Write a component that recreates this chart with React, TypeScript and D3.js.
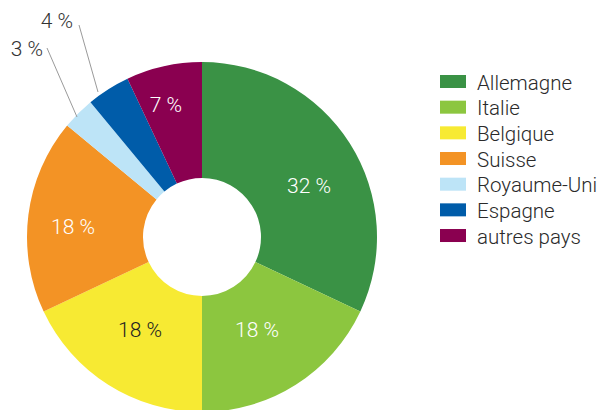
import React from "react";
import * as d3 from "d3";

const categories = ["Allemagne", "Italie", "Belgique", "Suisse", "Royaume-Uni", "Espagne", "autres pays"];
const values = [32, 18, 18, 18, 3, 4, 7];
const colors = ["#3a9245", "#8cc63f", "#f7ea33", "#f39325", "#bde4f7", "#005ca9", "#8a0050"];
const labelColors = ["#ffffff", "#ffffff", "#222222", "#ffffff", "#333333", "#333333", "#ffffff"];

const W = 608, H = 410;
const cx = 202, cy = 237, R = 175, r0 = 59;

// label layout: inside offset from centre (dx, dy); outside ones use leader lines
const insideLabel: Record<number, [number, number]> = {
  0: [107, -51],
  1: [55, 93],
  2: [-62, 93],
  3: [-129, -10],
  6: [-36, -132],
};
const outsideLabel: Record<number, { tx: number; ty: number; lx: number; ly: number; ex: number; ey: number }> = {
  4: { tx: 27, ty: 49, lx: 47, ly: 48, ex: 77, ey: 117 },
  5: { tx: 57, ty: 21, lx: 79, ly: 25, ex: 98, ey: 92 },
};

export default function App() {
  const pie = d3.pie<number>().sort(null).value((d) => d)(values);
  const arc = d3.arc<d3.PieArcDatum<number>>().innerRadius(r0).outerRadius(R);
  const font = "Roboto, 'Open Sans', sans-serif";
  return (
    <div style={{ position: "absolute", left: 0, top: 0 }}>
      <svg width={W} height={H} style={{ display: "block" }}>
        <rect width={W} height={H} fill="#fff" />
        <g transform={`translate(${cx},${cy})`}>
          {pie.map((p, i) => (
            <path key={i} d={arc(p) || ""} fill={colors[i]} />
          ))}
        </g>
        {pie.map((p, i) => {
          if (insideLabel[i]) {
            const [dx, dy] = insideLabel[i];
            return (
              <text key={i} x={cx + dx} y={cy + dy} textAnchor="middle" dominantBaseline="central"
                fontFamily={font} fontWeight={300} fontSize={21} fill={labelColors[i]}>
                {values[i]} %
              </text>
            );
          }
          const o = outsideLabel[i];
          return (
            <g key={i}>
              <line x1={o.lx} y1={o.ly} x2={o.ex} y2={o.ey} stroke="#9a9a9a" strokeWidth={1} />
              <text x={o.tx} y={o.ty} textAnchor="middle" dominantBaseline="central"
                fontFamily={font} fontWeight={300} fontSize={21} fill={labelColors[i]}>
                {values[i]} %
              </text>
            </g>
          );
        })}
        <g transform="translate(440,81.5)">
          {categories.map((c, i) => (
            <g key={c} transform={`translate(0,${i * 25.67})`}>
              <rect x={0} y={-6.5} width={26} height={13} fill={colors[i]} />
              <text x={37} y={1} dominantBaseline="central" fontFamily={font} fontWeight={300} fontSize={20.5} fill="#2a2a2a">
                {c}
              </text>
            </g>
          ))}
        </g>
      </svg>
    </div>
  );
}
